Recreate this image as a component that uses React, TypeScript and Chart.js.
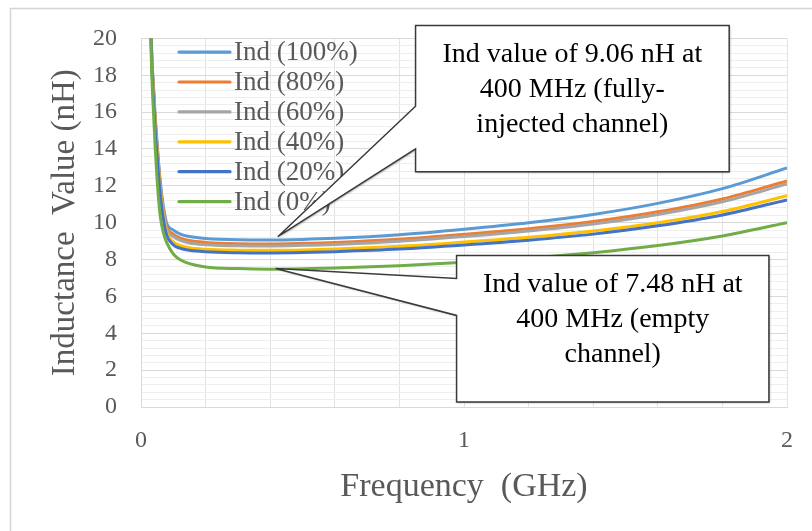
import React, { useEffect, useRef } from 'react';
import { Chart, registerables } from 'chart.js';

Chart.register(...registerables);

// ---- Data ----
const FREQ_GHZ = [0.025, 0.03, 0.04, 0.05, 0.06, 0.07, 0.08, 0.1, 0.12, 0.15, 0.2, 0.3, 0.4, 0.5, 0.6, 0.8, 1.0, 1.2, 1.4, 1.6, 1.8, 2.0];
const IND_100 = [29, 21.5, 17, 14.3, 12.2, 10.8, 9.95, 9.6, 9.4, 9.25, 9.14, 9.07, 9.06, 9.09, 9.15, 9.35, 9.65, 10.0, 10.45, 11.05, 11.85, 12.97];
const IND_80 = [29, 21.3, 16.8, 14.1, 12.0, 10.6, 9.75, 9.38, 9.18, 9.03, 8.93, 8.86, 8.85, 8.88, 8.93, 9.1, 9.37, 9.67, 10.06, 10.59, 11.29, 12.27];
const IND_60 = [29, 21.2, 16.7, 14.0, 11.9, 10.5, 9.62, 9.25, 9.05, 8.9, 8.81, 8.75, 8.74, 8.77, 8.82, 8.99, 9.25, 9.55, 9.93, 10.45, 11.14, 12.1];
const IND_40 = [29, 21.1, 16.5, 13.8, 11.7, 10.3, 9.45, 8.96, 8.77, 8.64, 8.56, 8.51, 8.5, 8.52, 8.57, 8.72, 8.95, 9.21, 9.55, 10.0, 10.61, 11.46];
const IND_20 = [29, 21, 16.3, 13.6, 11.5, 10.1, 9.3, 8.8, 8.62, 8.5, 8.42, 8.37, 8.36, 8.38, 8.43, 8.57, 8.79, 9.05, 9.38, 9.83, 10.42, 11.24];
const IND_0 = [28, 20.5, 15.5, 12.3, 10.3, 9.4, 8.9, 8.3, 8.0, 7.78, 7.6, 7.51, 7.48, 7.5, 7.54, 7.67, 7.86, 8.08, 8.37, 8.76, 9.28, 10.0];

const SERIES_LABELS = ['Ind (100%)', 'Ind (80%)', 'Ind (60%)', 'Ind (40%)', 'Ind (20%)', 'Ind (0%)'];
const SERIES_VALUES = [IND_100, IND_80, IND_60, IND_40, IND_20, IND_0];
const SERIES_COLORS = ['#5B9BD5', '#ED7D31', '#A5A5A5', '#FFC000', '#4472C4', '#70AD47'];

const X_MIN = 0;
const X_MAX = 2;
const X_GRID_STEP = 0.2;
const X_LABEL_STEP = 1;
const Y_MIN = 0;
const Y_MAX = 20;
const Y_GRID_STEP = 0.4;
const Y_LABEL_STEP = 2;

const X_TITLE = 'Frequency  (GHz)';
const Y_TITLE = 'Inductance  Value (nH)';

// Callouts (geometry in data units: GHz / nH)
const CALLOUT_TEXT_1 = ['Ind value of 9.06 nH at', '400 MHz (fully-', 'injected channel)'];
const CALLOUT_TEXT_2 = ['Ind value of 7.48 nH at', '400 MHz (empty', 'channel)'];
const CALLOUTS = [
  { lines: CALLOUT_TEXT_1, box: [0.85, 20.7, 1.821, 12.76], base: [16.32, 14.0], tip: [0.4235, 9.24] },
  { lines: CALLOUT_TEXT_2, box: [0.977, 8.216, 1.944, 0.27], base: [6.97, 4.97], tip: [0.417, 7.51] },
];

const SERIF = '"Liberation Serif", "Times New Roman", serif';
const TEXT_GRAY = '#595959';

const isMultiple = (v: number, step: number) => Math.abs(v / step - Math.round(v / step)) < 1e-6;

const outerBorder = {
  id: 'outerBorder',
  beforeDraw(chart: any) {
    const ctx = chart.ctx;
    ctx.save();
    ctx.fillStyle = '#ffffff';
    ctx.fillRect(0, 0, chart.width, chart.height);
    ctx.strokeStyle = '#d4d4d4';
    ctx.lineWidth = 1.5;
    ctx.strokeRect(10.5, 8.5, chart.width + 20, chart.height + 20);
    ctx.restore();
  },
};

const insideLegend = {
  id: 'insideLegend',
  afterDatasetsDraw(chart: any) {
    const ctx = chart.ctx;
    const area = chart.chartArea;
    ctx.save();
    ctx.font = `27px ${SERIF}`;
    ctx.textBaseline = 'middle';
    ctx.textAlign = 'left';
    SERIES_LABELS.forEach((label, i) => {
      const y = area.top + 13.7 + i * 29.9;
      ctx.strokeStyle = SERIES_COLORS[i];
      ctx.lineWidth = 3.2;
      ctx.lineCap = 'round';
      ctx.beginPath();
      ctx.moveTo(area.left + 38, y);
      ctx.lineTo(area.left + 89, y);
      ctx.stroke();
      ctx.fillStyle = TEXT_GRAY;
      ctx.fillText(label, area.left + 93, y + 1);
    });
    ctx.restore();
  },
};

const callouts = {
  id: 'callouts',
  afterDraw(chart: any) {
    const ctx = chart.ctx;
    const xs = chart.scales.x;
    const ys = chart.scales.y;
    ctx.save();
    CALLOUTS.forEach((c) => {
      const L = xs.getPixelForValue(c.box[0]);
      const T = ys.getPixelForValue(c.box[1]);
      const R = xs.getPixelForValue(c.box[2]);
      const B = ys.getPixelForValue(c.box[3]);
      const b1 = ys.getPixelForValue(c.base[0]);
      const b2 = ys.getPixelForValue(c.base[1]);
      const tx = xs.getPixelForValue(c.tip[0]);
      const ty = ys.getPixelForValue(c.tip[1]);
      ctx.beginPath();
      ctx.moveTo(L, T);
      ctx.lineTo(R, T);
      ctx.lineTo(R, B);
      ctx.lineTo(L, B);
      ctx.lineTo(L, b2);
      ctx.lineTo(tx, ty);
      ctx.lineTo(L, b1);
      ctx.closePath();
      ctx.fillStyle = '#ffffff';
      ctx.shadowColor = 'rgba(0,0,0,0.35)';
      ctx.shadowBlur = 2;
      ctx.shadowOffsetX = 1;
      ctx.shadowOffsetY = 1;
      ctx.fill();
      ctx.shadowColor = 'transparent';
      ctx.strokeStyle = '#3a3a3a';
      ctx.lineWidth = 1.5;
      ctx.lineJoin = 'miter';
      ctx.stroke();
      ctx.fillStyle = '#000000';
      ctx.font = `28px ${SERIF}`;
      ctx.textAlign = 'center';
      ctx.textBaseline = 'middle';
      const cx = (L + R) / 2;
      c.lines.forEach((line, i) => {
        ctx.fillText(line, cx, T + 29.5 + i * 35);
      });
    });
    ctx.restore();
  },
};

export default function App() {
  const canvasRef = useRef<HTMLCanvasElement | null>(null);

  useEffect(() => {
    document.body.style.margin = '0';
    const canvas = canvasRef.current;
    if (!canvas) return;

    const datasets = SERIES_LABELS.map((label, i) => ({
      label,
      data: FREQ_GHZ.map((f, j) => ({ x: f, y: SERIES_VALUES[i][j] })),
      borderColor: SERIES_COLORS[i],
      backgroundColor: SERIES_COLORS[i],
      borderWidth: 3,
      pointRadius: 0,
      fill: false,
      cubicInterpolationMode: 'monotone' as const,
      order: SERIES_LABELS.length - i,
    }));

    const chart = new Chart(canvas, {
      type: 'line',
      data: { datasets },
      plugins: [outerBorder, insideLegend, callouts],
      options: {
        animation: false,
        responsive: false,
        events: [],
        layout: { padding: { top: 37, right: 24, bottom: 0, left: 0 } },
        plugins: {
          legend: { display: false },
          tooltip: { enabled: false },
        },
        scales: {
          x: {
            type: 'linear',
            min: X_MIN,
            max: X_MAX,
            afterFit: (scale: any) => {
              scale.height = 124;
            },
            border: { color: '#d9d9d9', width: 1 },
            grid: {
              color: '#e3e3e3',
              lineWidth: 1,
              drawTicks: false,
            },
            ticks: {
              stepSize: X_GRID_STEP,
              autoSkip: false,
              maxRotation: 0,
              padding: 19,
              color: TEXT_GRAY,
              font: { family: SERIF, size: 24 },
              callback: (v: any) => (isMultiple(Number(v), X_LABEL_STEP) ? String(Math.round(Number(v))) : ''),
            },
            title: {
              display: true,
              text: X_TITLE,
              color: TEXT_GRAY,
              font: { family: SERIF, size: 34 },
              padding: { top: 0, bottom: 24 },
            },
          },
          y: {
            type: 'linear',
            min: Y_MIN,
            max: Y_MAX,
            afterFit: (scale: any) => {
              scale.width = 141;
            },
            border: { color: '#d9d9d9', width: 1 },
            grid: {
              color: (ctx: any) =>
                ctx.tick && isMultiple(ctx.tick.value, Y_LABEL_STEP) ? '#d9d9d9' : '#eeeeee',
              lineWidth: 1,
              drawTicks: false,
            },
            ticks: {
              stepSize: Y_GRID_STEP,
              autoSkip: false,
              padding: 24,
              color: TEXT_GRAY,
              font: { family: SERIF, size: 24 },
              callback: (v: any) => (isMultiple(Number(v), Y_LABEL_STEP) ? String(Math.round(Number(v))) : ''),
            },
            title: {
              display: true,
              text: Y_TITLE,
              color: TEXT_GRAY,
              font: { family: SERIF, size: 33 },
              padding: { top: 46, bottom: 0 },
            },
          },
        },
      } as any,
    });

    return () => {
      chart.destroy();
    };
  }, []);

  return (
    <div style={{ width: 812, height: 531 }}>
      <canvas ref={canvasRef} width={812} height={531} style={{ display: 'block' }} />
    </div>
  );
}
